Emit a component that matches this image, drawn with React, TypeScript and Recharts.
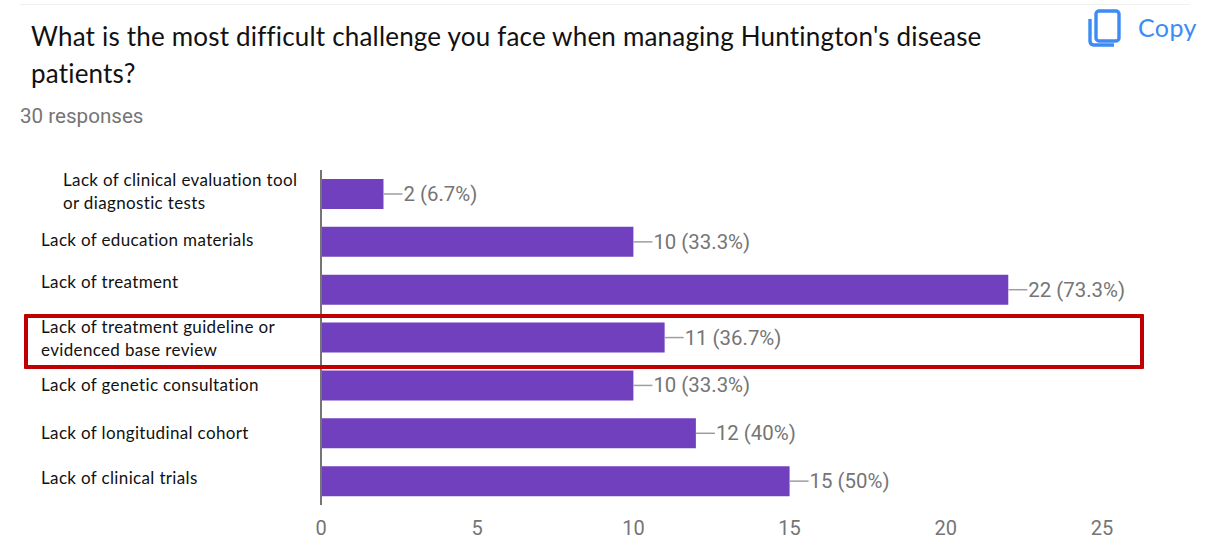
import { BarChart, Bar, XAxis, YAxis, LabelList } from 'recharts'

const CATEGORIES = [
  'Lack of clinical evaluation tool|or diagnostic tests',
  'Lack of education materials',
  'Lack of treatment',
  'Lack of treatment guideline or|evidenced base review',
  'Lack of genetic consultation',
  'Lack of longitudinal cohort',
  'Lack of clinical trials',
]
const VALUES = [2, 10, 22, 11, 10, 12, 15]
const PERCENTS = ['6.7', '33.3', '73.3', '36.7', '33.3', '40', '50']
const X_TICKS = [0, 5, 10, 15, 20, 25]

const chartData = CATEGORIES.map((name, i) => ({ name, value: VALUES[i], pct: PERCENTS[i] }))

const LABEL_FONT = 'Lato, sans-serif'
const GRAY = '#757575'

// the source labels were pasted on by hand, so they sit a little off the bars
const TICK_LEFT = [63, 41, 41, 41, 41, 41, 41]
const TICK_NUDGE = [-2, -2, -8, 1, 0, 0, -3]

function CategoryTick({ y, index, payload }: any) {
  const lines = String(payload.value).split('|')
  const top = y + TICK_NUDGE[index] - (lines.length - 1) * 11.5
  return (
    <text fontFamily={LABEL_FONT} fontSize={17} fill="#111" letterSpacing={0.35}>
      {lines.map((line, i) => (
        <tspan key={line} x={TICK_LEFT[index]} y={top + i * 23 + 6}>{line}</tspan>
      ))}
    </text>
  )
}

function ValueLabel({ x, y, width, height, index }: any) {
  const end = x + width
  const mid = y + height / 2
  return (
    <g>
      <line x1={end} x2={end + 19} y1={mid} y2={mid} stroke="#9e9e9e" strokeWidth={1.5} />
      <text x={end + 20} y={mid + 7} fontFamily="Roboto, sans-serif" fontSize={20.4} fill={GRAY}>
        {`${VALUES[index]} (${PERCENTS[index]}%)`}
      </text>
    </g>
  )
}

export default function App() {
  return (
    <div style={{ position: 'absolute', left: 0, top: 0, width: 1208, height: 557, background: '#fff', overflow: 'hidden' }}>
      <div style={{ position: 'absolute', left: 20, top: 4, width: 1170, height: 0, borderTop: '1px solid #f0f0f0' }} />
      <div style={{ position: 'absolute', left: 31, top: 18, width: 1000, fontFamily: LABEL_FONT, fontSize: 26, lineHeight: '37px', color: '#111', letterSpacing: 0.19 }}>
        What is the most difficult challenge you face when managing Huntington's disease<br />patients?
      </div>
      <div style={{ position: 'absolute', left: 20, top: 104, fontFamily: 'Roboto, sans-serif', fontSize: 20.6, color: GRAY }}>
        30 responses
      </div>

      <svg style={{ position: 'absolute', left: 1088, top: 8 }} width={36} height={40} viewBox="0 0 36 40" fill="none" stroke="#3d8bf5" strokeWidth={3.4}>
        <rect x={8} y={3} width={23} height={30} rx={3} />
        <path d="M2 11 V33 Q2 37 6 37 H26" />
      </svg>
      <div style={{ position: 'absolute', left: 1138, top: 12, fontFamily: 'Lato, sans-serif', fontSize: 25, color: '#3d8bf5', letterSpacing: 0.4 }}>
        Copy
      </div>

      <BarChart
        width={1208}
        height={557}
        data={chartData}
        layout="vertical"
        margin={{ top: 170, right: 106, bottom: 0, left: 0 }}
        barCategoryGap={9}
        style={{ position: 'absolute', left: 0, top: 0 }}
      >
        <XAxis
          type="number"
          domain={[0, 25]}
          ticks={X_TICKS}
          height={52}
          axisLine={false}
          tickLine={false}
          tickMargin={10}
          tick={{ fontSize: 20, fill: GRAY, fontFamily: 'Roboto, sans-serif' }}
        />
        <YAxis
          type="category"
          dataKey="name"
          width={321}
          axisLine={{ stroke: GRAY, strokeWidth: 2 }}
          tickLine={false}
          interval={0}
          tick={CategoryTick}
        />
        <Bar dataKey="value" fill="#7040bf" isAnimationActive={false}>
          <LabelList dataKey="value" content={ValueLabel} />
        </Bar>
      </BarChart>

      <div style={{ position: 'absolute', left: 24, top: 314, width: 1120, height: 55, boxSizing: 'border-box', border: '4px solid #c00000', borderRadius: 1 }} />
    </div>
  )
}
